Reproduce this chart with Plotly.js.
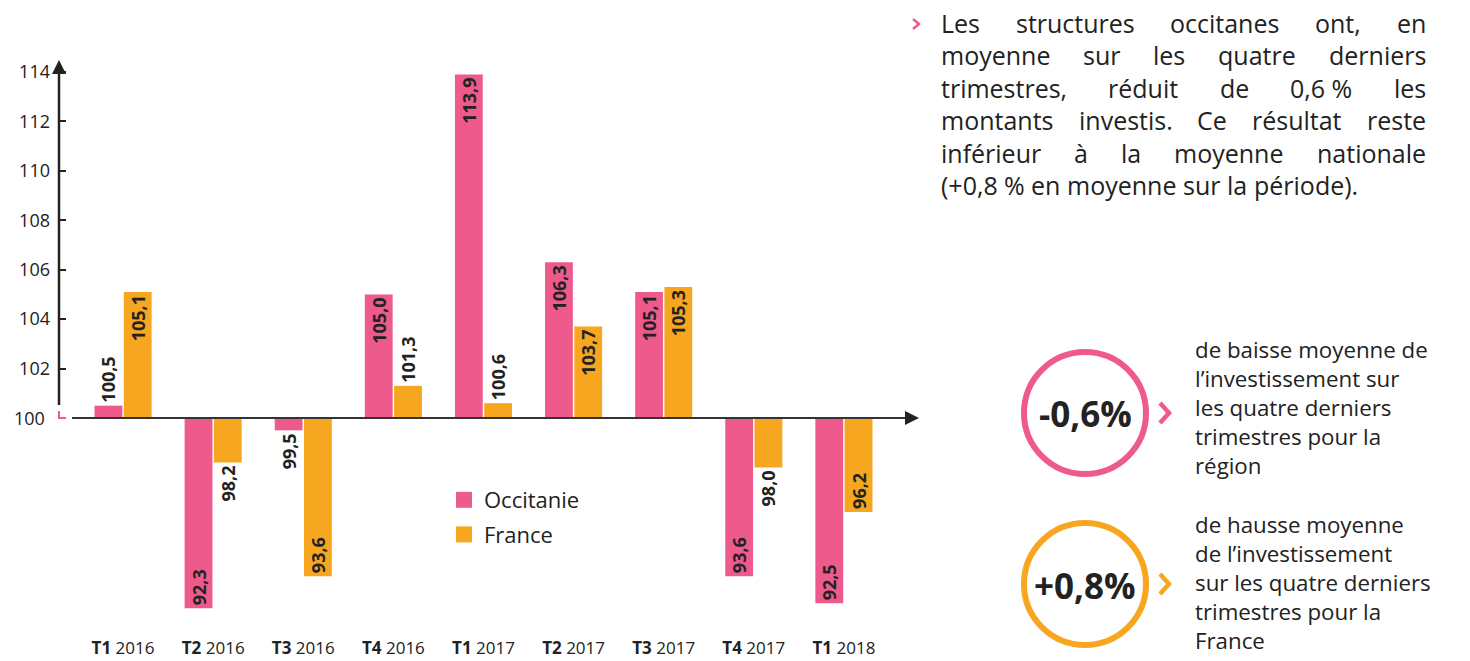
<!DOCTYPE html>
<html>
<head>
<meta charset="utf-8">
<script src="https://cdn.plot.ly/plotly-3.0.1.min.js"></script>
<style>
  html, body { margin: 0; padding: 0; background: #fff; }
  #chart { width: 1470px; height: 661px; }
</style>
</head>
<body>
<div id="chart"></div>
<script>
// Data (indice base 100)
const quarters = ['T1', 'T2', 'T3', 'T4', 'T1', 'T2', 'T3', 'T4', 'T1'];
const years = ['2016', '2016', '2016', '2016', '2017', '2017', '2017', '2017', '2018'];
const occitanie = [100.5, 92.3, 99.5, 105.0, 113.9, 106.3, 105.1, 93.6, 92.5];
const france = [105.1, 98.2, 93.6, 101.3, 100.6, 103.7, 105.3, 98.0, 96.2];
const baseIndex = 100;
const yTicks = [102, 104, 106, 108, 110, 112, 114];

const paragraph = [
    'Les structures occitanes ont, en',
    'moyenne sur les quatre derniers',
    'trimestres, réduit de 0,6\u00a0% les',
    'montants investis. Ce résultat reste',
    'inférieur à la moyenne nationale',
    '(+0,8 % en moyenne sur la période).'
];
const regionText = ['de baisse moyenne de', 'l\u2019investissement sur', 'les quatre derniers', 'trimestres pour la', 'région'];
const franceText = ['de hausse moyenne', 'de l\u2019investissement', 'sur les quatre derniers', 'trimestres pour la', 'France'];
const regionAvg = '-0,6%';
const franceAvg = '+0,8%';

const PINK = '#ef5a8c';
const ORANGE = '#f6a71f';
const INK = '#222222';
const FONT = '"Open Sans", sans-serif';

// plot area in pixels
const L = 59, R = 905, T = 57, B = 636;
const px = x => (x - L) / (R - L);
const py = y => (B - y) / (B - T);

const categories = quarters.map((q, i) => q + ' ' + years[i]);
const ticktext = quarters.map((q, i) => '<b>' + q + '</b> ' + years[i]);
const fmt = v => v.toFixed(1).replace('.', ',');

// short bars get their label outside
function barTrace(name, values, color) {
    return {
        type: 'bar',
        name: name,
        legendgroup: name,
        showlegend: false,
        x: categories,
        y: values.map(v => v - baseIndex),
        base: baseIndex,
        text: values.map(fmt),
        textposition: values.map(v => Math.abs(v - baseIndex) < 2.5 ? 'outside' : 'inside'),
        textangle: -90,
        insidetextanchor: 'end',
        constraintext: 'none',
        textfont: { family: FONT, size: 18, color: INK, weight: 'bold' },
        marker: { color: color },
        cliponaxis: false,
        hoverinfo: 'name+text'
    };
}

// legend-only entries with bigger squares
function legendEntry(name, color) {
    return {
        type: 'scatter', mode: 'markers', name: name, legendgroup: name,
        x: [null], y: [null],
        marker: { symbol: 'square', size: 20, color: color },
        hoverinfo: 'skip'
    };
}

const data = [
    barTrace('Occitanie', occitanie, PINK),
    barTrace('France', france, ORANGE),
    legendEntry('Occitanie', PINK),
    legendEntry('France', ORANGE)
];

// axes drawn by hand, with arrow heads
const shapes = [
    { type: 'line', xref: 'paper', yref: 'paper', x0: 0, x1: 0, y0: py(405), y1: py(72),
      line: { color: INK, width: 2.5 } },
    { type: 'path', xref: 'paper', yref: 'paper', fillcolor: INK, line: { width: 0 },
      path: `M${px(52)},${py(74)} L${px(59)},${py(60)} L${px(66)},${py(74)} Z` },
    { type: 'line', xref: 'paper', yref: 'y', x0: px(72), x1: px(906), y0: baseIndex, y1: baseIndex,
      line: { color: '#333', width: 2 } },
    { type: 'path', xref: 'paper', yref: 'paper', fillcolor: INK, line: { width: 0 },
      path: `M${px(905)},${py(411)} L${px(919)},${py(418)} L${px(905)},${py(425)} Z` },
    { type: 'path', xref: 'paper', yref: 'paper', line: { color: PINK, width: 2 },
      path: `M${px(59)},${py(411)} L${px(59)},${py(418)} L${px(66)},${py(418)}` },
    // bullet
    { type: 'path', xref: 'paper', yref: 'paper', line: { color: PINK, width: 2.5 },
      path: `M${px(913)},${py(19)} L${px(919)},${py(24)} L${px(913)},${py(29)}` },
    // circles
    { type: 'circle', xref: 'paper', yref: 'paper', line: { color: PINK, width: 6 },
      x0: px(1024), x1: px(1146), y0: py(474), y1: py(352) },
    { type: 'circle', xref: 'paper', yref: 'paper', line: { color: ORANGE, width: 6 },
      x0: px(1024), x1: px(1146), y0: py(645), y1: py(523) },
    // chevrons
    { type: 'path', xref: 'paper', yref: 'paper', line: { color: PINK, width: 4.5 },
      path: `M${px(1160)},${py(403)} L${px(1169)},${py(413)} L${px(1160)},${py(423)}` },
    { type: 'path', xref: 'paper', yref: 'paper', line: { color: ORANGE, width: 4.5 },
      path: `M${px(1160)},${py(574)} L${px(1169)},${py(584)} L${px(1160)},${py(594)}` }
];

const annotations = [
    { xref: 'paper', yref: 'y', x: 0, y: baseIndex, xanchor: 'right', xshift: -12, text: '100',
      showarrow: false, font: { family: FONT, size: 18, color: INK } },
    { xref: 'paper', yref: 'paper', x: px(1085), y: py(413), xanchor: 'center', yanchor: 'middle',
      text: '<b>' + regionAvg + '</b>', showarrow: false, font: { family: FONT, size: 35, color: INK } },
    { xref: 'paper', yref: 'paper', x: px(1085), y: py(585), xanchor: 'center', yanchor: 'middle',
      text: '<b>' + franceAvg + '</b>', showarrow: false, font: { family: FONT, size: 35, color: INK } },
    { xref: 'paper', yref: 'paper', x: px(1193), y: py(408), xanchor: 'left', yanchor: 'middle',
      align: 'left', text: regionText.join('<br>'), showarrow: false,
      font: { family: FONT, size: 22.3, color: INK } },
    { xref: 'paper', yref: 'paper', x: px(1193), y: py(582), xanchor: 'left', yanchor: 'middle',
      align: 'left', text: franceText.join('<br>'), showarrow: false,
      font: { family: FONT, size: 22.3, color: INK } }
];

// justified paragraph: one annotation per word, spread with measured widths
const paraSize = 25;
const paraLeft = 940, paraRight = 1425;
const ctx = document.createElement('canvas').getContext('2d');
ctx.font = paraSize + 'px ' + FONT;
paragraph.forEach((line, i) => {
    const yLine = py(23 + i * 32.4);
    const last = i === paragraph.length - 1;
    const words = line.split(' ');
    const widths = words.map(w => ctx.measureText(w).width);
    const total = widths.reduce((a, b) => a + b, 0);
    const gap = last ? ctx.measureText(' ').width : (paraRight - paraLeft - total) / (words.length - 1);
    let xPos = paraLeft;
    words.forEach((w, k) => {
        annotations.push({
            xref: 'paper', yref: 'paper', x: px(xPos), y: yLine, xanchor: 'left', yanchor: 'middle',
            text: w, showarrow: false, borderpad: 0,
            font: { family: FONT, size: paraSize, color: INK }
        });
        xPos += widths[k] + gap;
    });
});

const layout = {
    width: 1470,
    height: 661,
    margin: { l: L, r: 1470 - R, t: T, b: 661 - B, pad: 0 },
    paper_bgcolor: '#fff',
    plot_bgcolor: '#fff',
    font: { family: FONT, color: INK },
    barmode: 'group',
    bargap: 0.35,
    bargroupgap: 0.05,
    showlegend: true,
    legend: {
        x: px(444), y: py(479), xanchor: 'left', yanchor: 'top',
        font: { family: FONT, size: 22, color: INK },
        bgcolor: 'rgba(0,0,0,0)', tracegroupgap: 3, traceorder: 'grouped'
    },
    xaxis: {
        type: 'category',
        range: [-0.711, 8.678],
        tickvals: categories,
        ticktext: ticktext,
        showgrid: false, zeroline: false, showline: false, ticks: '',
        tickfont: { family: FONT, size: 17, color: INK },
        ticklabelstandoff: 0,
        automargin: false,
        fixedrange: true
    },
    yaxis: {
        range: [91.179, 114.607],
        tickvals: yTicks,
        showgrid: false, zeroline: false, showline: false,
        ticks: 'inside', ticklen: 7, tickwidth: 2, tickcolor: INK,
        tickfont: { family: FONT, size: 18, color: INK },
        ticklabelstandoff: 8,
        automargin: false,
        fixedrange: true
    },
    shapes: shapes,
    annotations: annotations
};

Plotly.newPlot('chart', data, layout, { displayModeBar: false, responsive: false });
</script>
</body>
</html>
